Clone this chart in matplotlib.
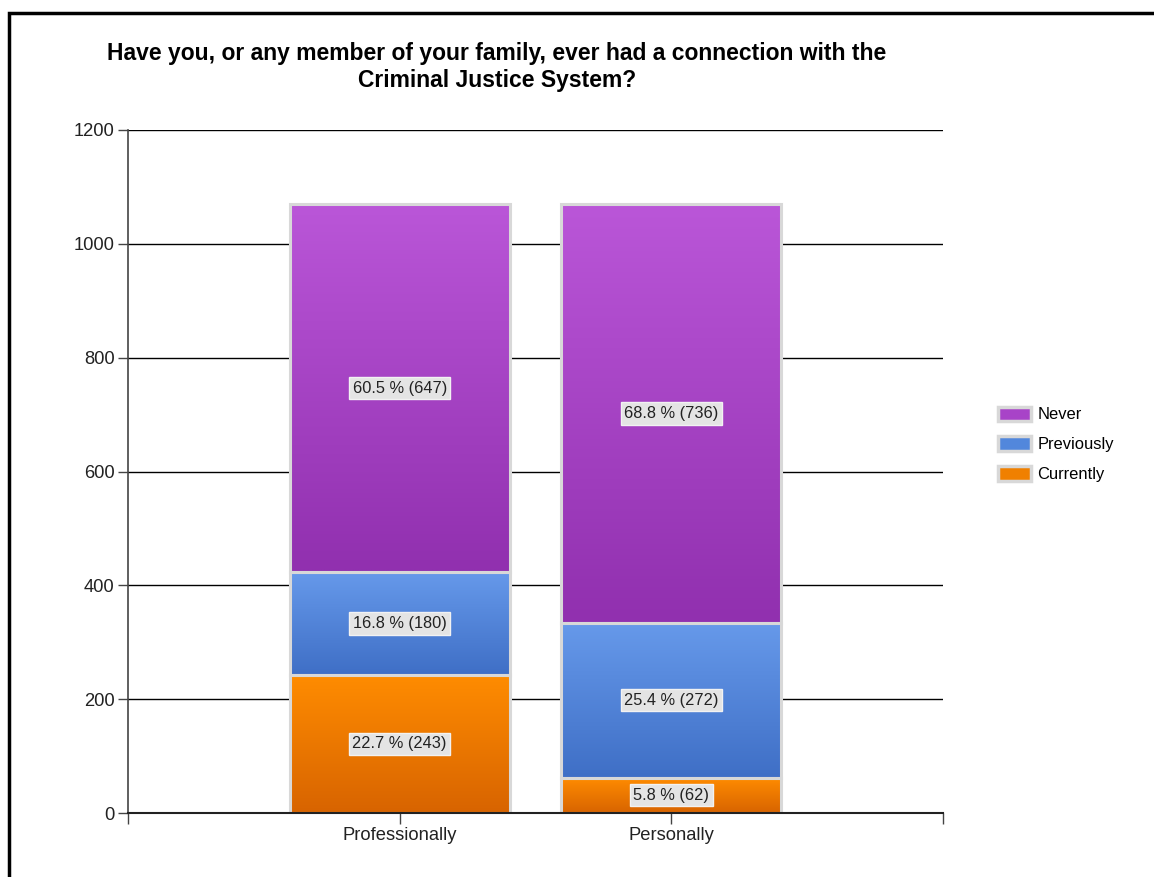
import matplotlib
matplotlib.use("Agg")
import matplotlib.pyplot as plt
import numpy as np
from matplotlib.patches import Patch, Rectangle
from matplotlib.colors import to_rgb

plt.rcParams['font.family'] = ['Liberation Sans', 'DejaVu Sans']

categories = ["Professionally", "Personally"]
series_names = ["Currently", "Previously", "Never"]
counts = {
    "Currently": [243, 62],
    "Previously": [180, 272],
    "Never": [647, 736],
}
percents = {
    "Currently": [22.7, 5.8],
    "Previously": [16.8, 25.4],
    "Never": [60.5, 68.8],
}
yticks = [0, 200, 400, 600, 800, 1000, 1200]
title = "Have you, or any member of your family, ever had a connection with the\nCriminal Justice System?"

grad = {
    "Currently": ("#FF8C00", "#D86400", "#F08000"),
    "Previously": ("#6699EA", "#3F6FC6", "#5287DC"),
    "Never": ("#BA56D8", "#9130AF", "#A843C8"),
}

fig = plt.figure(figsize=(11.54, 8.77), dpi=100)
W, H = 1154, 877
ax = fig.add_axes([128 / W, 1 - 813 / H, (943 - 128) / W, (813 - 130) / H])

x = np.arange(len(categories))
bottom = np.zeros(len(categories))
for name in series_names:
    vals = np.array(counts[name], dtype=float)
    bars = ax.bar(x, vals, width=0.81, bottom=bottom, facecolor='none',
                  edgecolor='#D8D8D8', linewidth=2.2, zorder=3)
    top_c, bot_c, _ = grad[name]
    t = np.array(to_rgb(top_c)); b = np.array(to_rgb(bot_c))
    n = 64
    f = np.linspace(0, 1, n)[:, None]
    img = (t * (1 - f) + b * f)[:, None, :]
    for i, p in enumerate(bars.patches):
        x0, w, y0, h = p.get_x(), p.get_width(), p.get_y(), p.get_height()
        ax.imshow(img, extent=(x0, x0 + w, y0, y0 + h), aspect='auto',
                  zorder=2.5, interpolation='bilinear')
        ax.text(x0 + w / 2, y0 + h / 2,
                f"{percents[name][i]} % ({counts[name][i]})",
                ha='center', va='center', fontsize=11.8, color='#222222', zorder=5,
                bbox=dict(boxstyle='square,pad=0.22', facecolor='#E4E4E4',
                          edgecolor='#F2F2F2', linewidth=1))
    bottom = bottom + vals

ax.set_xlim(-1, 2)
ax.set_ylim(0, 1200)
ax.set_yticks(yticks)
ax.set_yticklabels([str(v) for v in yticks], fontsize=13.2, color='#222222')
ax.set_xticks([-1, 0, 1, 2])
ax.set_xticklabels(["", categories[0], categories[1], ""], fontsize=13.2, color='#222222')
ax.tick_params(axis='y', length=7.2, width=1, color='#444444', pad=2.5)
ax.tick_params(axis='x', length=8, width=1, color='#444444', pad=2, direction='out')
ax.grid(axis='y', color='black', linewidth=1, zorder=0)
ax.set_axisbelow(True)
for s in ['top', 'right']:
    ax.spines[s].set_visible(False)
ax.spines['bottom'].set_color('#222222')
ax.spines['bottom'].set_linewidth(1.5)
ax.spines['bottom'].set_zorder(6)
ax.spines['left'].set_color('#444444')
ax.spines['left'].set_linewidth(1.2)
ax.spines['left'].set_zorder(6)
ax.set_facecolor('white')

fig.text(497 / W, 1 - 67 / H, title, ha='center', va='center', fontsize=16.5,
         fontweight='bold', color='black', linespacing=1.25)

handles = [Patch(facecolor=grad[n][2], edgecolor='#D8D8D8', linewidth=2.5, label=n)
           for n in reversed(series_names)]
fig.legend(handles=handles, loc='upper left', bbox_to_anchor=(991 / W, 1 - 400 / H),
           frameon=False, fontsize=11.9, handlelength=2.0, handleheight=0.95,
           labelspacing=0.85, handletextpad=0.4, borderaxespad=0)

fig.add_artist(Rectangle((9 / W, -0.1), 1.2, 1 - 13 / H + 0.1, transform=fig.transFigure,
                         fill=False, edgecolor='black', linewidth=2.5))

fig.savefig("out.png", dpi=100)
